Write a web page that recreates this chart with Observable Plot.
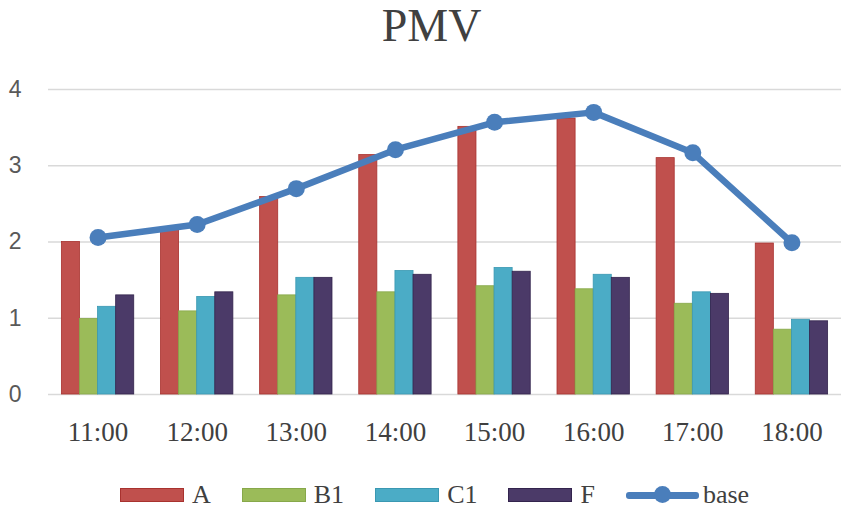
<!DOCTYPE html>
<html>
<head>
<meta charset="utf-8">
<script src="https://cdn.jsdelivr.net/npm/d3@7"></script>
<script src="https://cdn.jsdelivr.net/npm/@observablehq/plot@0.6"></script>
<style>
  html, body { margin: 0; padding: 0; background: #fff; }
  #wrap { width: 851px; height: 512px; position: relative; overflow: hidden; }
  #title { height: 60px; line-height: 51px; text-align: center; padding-left: 12px;
           font-family: "Liberation Serif", serif; font-size: 46px; color: #404040; }
  #legend { display: flex; align-items: center; height: 34px; padding-top: 18px; padding-left: 120px;
            font-family: "Liberation Serif", serif; font-size: 26px; color: #404040; }
  .item { display: flex; align-items: center; margin-right: 31px; }
  .sw { width: 64px; height: 14px; margin-right: 8px; box-sizing: border-box; }
  .lsw { width: 73px; height: 18px; margin-right: 4px; position: relative; }
  .lsw .ln { position: absolute; left: 0; right: 0; top: 6px; height: 6.5px; border-radius: 3px; }
  .lsw .dt { position: absolute; left: 28px; top: 0; width: 17px; height: 17px; border-radius: 50%; }
</style>
</head>
<body>
<div id="wrap">
  <div id="title">PMV</div>
  <div id="chart"></div>
  <div id="legend"></div>
</div>
<script>
const times = ["11:00", "12:00", "13:00", "14:00", "15:00", "16:00", "17:00", "18:00"];
const seriesNames = ["A", "B1", "C1", "F"];
const A    = [2.00, 2.16, 2.59, 3.14, 3.51, 3.62, 3.10, 1.98];
const B1   = [0.99, 1.09, 1.30, 1.34, 1.42, 1.38, 1.19, 0.85];
const C1   = [1.15, 1.28, 1.53, 1.62, 1.66, 1.57, 1.34, 0.98];
const F    = [1.30, 1.34, 1.53, 1.57, 1.61, 1.53, 1.32, 0.96];
const base = [2.06, 2.23, 2.70, 3.21, 3.57, 3.70, 3.17, 1.99];
const yTicks = [0, 1, 2, 3, 4];

const seriesColors = ["#c0504d", "#9bbb59", "#4bacc6", "#4b3a68"];
const seriesStrokes = ["#a8322f", "#87a84a", "#3a98b2", "#33244d"];
const baseColor = "#4a7ebb";

const seriesValues = [A, B1, C1, F];
const barRows = times.flatMap((t, i) => seriesNames.map((s, j) => ({ i, j, s, v: seriesValues[j][i] })));
const baseRows = times.map((t, i) => ({ i, v: base[i] }));

const groupW = 0.73, barW = groupW / seriesNames.length;

const chart = Plot.plot({
  width: 851,
  height: 400,
  marginTop: 29,
  marginBottom: 66,
  marginLeft: 48,
  marginRight: 10,
  style: { fontFamily: "Liberation Serif, serif", background: "#fff" },
  x: { domain: [-0.5, times.length - 0.5], axis: null },
  y: { domain: [0, 4], axis: null },
  color: { domain: seriesNames, range: seriesColors },
  marks: [
    Plot.ruleY(yTicks, { stroke: "#d9d9d9", strokeWidth: 1.5 }),
    Plot.rectY(barRows, {
      x1: d => d.i - groupW / 2 + d.j * barW,
      x2: d => d.i - groupW / 2 + (d.j + 1) * barW,
      y1: 0, y2: "v",
      fill: "s",
      stroke: d => seriesStrokes[d.j],
      strokeWidth: 0.8
    }),
    Plot.line(baseRows, { x: "i", y: "v", stroke: baseColor, strokeWidth: 6.5, strokeLinejoin: "round", strokeLinecap: "round" }),
    Plot.dot(baseRows, { x: "i", y: "v", r: 8.5, fill: baseColor }),
    Plot.axisX({ ticks: d3.range(times.length), tickFormat: i => times[i], tickSize: 0, tickPadding: 27,
                 fontSize: 27, fontFamily: "Liberation Serif", color: "#404040", label: null }),
    Plot.axisY({ ticks: yTicks, tickFormat: d => String(d), tickSize: 0, tickPadding: 27, fontSize: 23,
                 fontFamily: "Liberation Sans", color: "#595959", label: null })
  ]
});
document.getElementById("chart").appendChild(chart);

const legend = document.getElementById("legend");
seriesNames.forEach((s, j) => {
  const it = document.createElement("div");
  it.className = "item";
  it.innerHTML = `<div class="sw" style="background:${seriesColors[j]};border:1px solid ${seriesStrokes[j]}"></div><span>${s}</span>`;
  legend.appendChild(it);
});
const itB = document.createElement("div");
itB.className = "item";
itB.innerHTML = `<div class="lsw"><div class="ln" style="background:${baseColor}"></div><div class="dt" style="background:${baseColor}"></div></div><span>base</span>`;
legend.appendChild(itB);
</script>
</body>
</html>
